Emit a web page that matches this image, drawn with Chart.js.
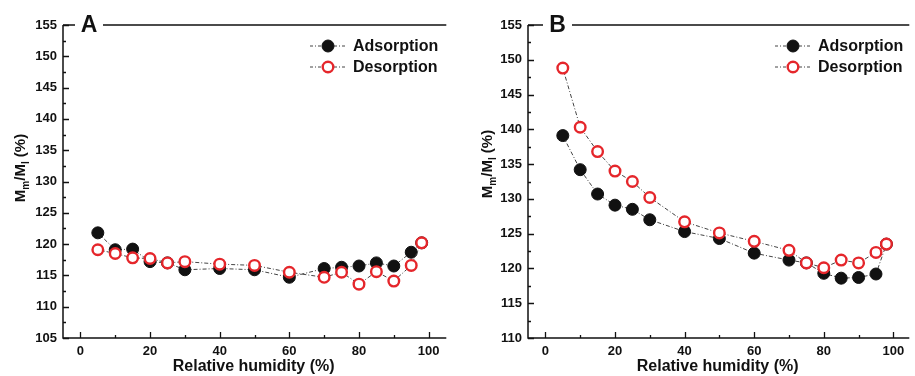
<!DOCTYPE html>
<html>
<head>
<meta charset="utf-8">
<script src="https://cdn.jsdelivr.net/npm/chart.js@4.4.1/dist/chart.umd.min.js"></script>
<style>
  body { margin: 0; background: #fff; }
  #wrap { position: relative; width: 915px; height: 376px; overflow: hidden; }
  .panel { position: absolute; top: 0; height: 376px; }
  #panelA { left: 0; width: 452px; }
  #panelB { left: 455px; width: 460px; }
</style>
</head>
<body>
<div id="wrap">
  <div class="panel" id="panelA"><canvas id="chartA"></canvas></div>
  <div class="panel" id="panelB"><canvas id="chartB"></canvas></div>
</div>
<script>
// relative humidity steps (%)
const humidity = [5, 10, 15, 20, 25, 30, 40, 50, 60, 70, 75, 80, 85, 90, 95, 98];

// panel A
const adsorptionA = [121.8, 119.1, 119.2, 117.2, 117.0, 115.9, 116.1, 115.9, 114.7, 116.1, 116.3, 116.5, 117.0, 116.5, 118.7, 120.2];
const desorptionA = [119.1, 118.5, 117.8, 117.7, 117.0, 117.2, 116.8, 116.6, 115.5, 114.7, 115.5, 113.6, 115.6, 114.1, 116.6, 120.2];

// panel B
const adsorptionB = [139.1, 134.2, 130.7, 129.1, 128.5, 127.0, 125.3, 124.3, 122.2, 121.2, 120.8, 119.3, 118.6, 118.7, 119.2, 123.5];
const desorptionB = [148.8, 140.3, 136.8, 134.0, 132.5, 130.2, 126.7, 125.1, 123.9, 122.6, 120.8, 120.1, 121.2, 120.8, 122.3, 123.5];

const xTicks = [0, 20, 40, 60, 80, 100];
const seriesNames = ['Adsorption', 'Desorption'];

const RED = '#e5262b';
const INK = '#111';
const FONT = '"Liberation Sans", Arial, sans-serif';

function points(vals) {
    return humidity.map((h, i) => ({ x: h, y: vals[i] }));
}

// frame: top line broken by the panel letter, inward ticks, y title, legend
const decorPlugin = {
    id: 'decor',
    beforeDatasetsDraw(chart, args, opts) {
        const ctx = chart.ctx;
        const area = chart.chartArea;
        const xs = chart.scales.x;
        const ys = chart.scales.y;
        ctx.save();
        ctx.strokeStyle = INK;
        ctx.lineWidth = 1.5;

        // axes
        ctx.beginPath();
        ctx.moveTo(area.left, area.top);
        ctx.lineTo(area.left, area.bottom);
        ctx.lineTo(area.right + 2, area.bottom);
        ctx.stroke();

        // top line with gap for letter
        ctx.beginPath();
        ctx.moveTo(area.left, area.top);
        ctx.lineTo(area.left + opts.gapStart, area.top);
        ctx.moveTo(area.left + opts.gapEnd, area.top);
        ctx.lineTo(area.right + 2, area.top);
        ctx.stroke();

        // letter
        ctx.fillStyle = INK;
        ctx.font = 'bold 23px ' + FONT;
        ctx.textAlign = 'center';
        ctx.textBaseline = 'middle';
        ctx.fillText(opts.letter, area.left + (opts.gapStart + opts.gapEnd) / 2, area.top + 1);

        // y ticks (inward), minor every 2.5
        ctx.lineWidth = 1.3;
        ctx.beginPath();
        for (let v = ys.min; v <= ys.max + 0.01; v += 2.5) {
            const py = Math.round(ys.getPixelForValue(v)) + 0.5;
            const len = (Math.round(v) % 5 === 0 && Number.isInteger(v)) ? 6 : 3;
            ctx.moveTo(area.left, py);
            ctx.lineTo(area.left + len, py);
        }
        // x ticks (inward), minor every 10
        for (let v = 0; v <= 100; v += 10) {
            const px = Math.round(xs.getPixelForValue(v)) + 0.5;
            const len = v % 20 === 0 ? 6 : 3;
            ctx.moveTo(px, area.bottom);
            ctx.lineTo(px, area.bottom - len);
        }
        ctx.stroke();

        // y title with subscripts: Mm/Ml (%)
        ctx.save();
        ctx.translate(opts.titleX, opts.titleY);
        ctx.rotate(-Math.PI / 2);
        ctx.textBaseline = 'alphabetic';
        ctx.textAlign = 'left';
        const parts = [
            { t: 'M', size: 15, dy: 0 },
            { t: 'm', size: 10, dy: 4 },
            { t: '/M', size: 15, dy: 0 },
            { t: 'l', size: 10, dy: 4 },
            { t: ' (%)', size: 15, dy: 0 }
        ];
        let total = 0;
        parts.forEach(p => { ctx.font = 'bold ' + p.size + 'px ' + FONT; total += ctx.measureText(p.t).width; });
        let cx = -total / 2;
        parts.forEach(p => {
            ctx.font = 'bold ' + p.size + 'px ' + FONT;
            ctx.fillText(p.t, cx, 5 + p.dy);
            cx += ctx.measureText(p.t).width;
        });
        ctx.restore();

        // legend
        chart.data.datasets.slice().sort((a, b) => a.legendRow - b.legendRow).forEach(ds => {
            const ly = opts.legendY + ds.legendRow * 21;
            const mx = opts.legendX;
            ctx.strokeStyle = '#444';
            ctx.lineWidth = 1;
            ctx.setLineDash([3, 2, 1, 2]);
            ctx.beginPath();
            ctx.moveTo(mx - 18, ly);
            ctx.lineTo(mx + 18, ly);
            ctx.stroke();
            ctx.setLineDash([]);
            ctx.beginPath();
            ctx.arc(mx, ly, ds.pointRadius, 0, Math.PI * 2);
            ctx.fillStyle = ds.pointBackgroundColor;
            ctx.fill();
            ctx.lineWidth = ds.pointBorderWidth;
            ctx.strokeStyle = ds.pointBorderColor;
            ctx.stroke();
            ctx.fillStyle = INK;
            ctx.font = 'bold 16px ' + FONT;
            ctx.textAlign = 'left';
            ctx.textBaseline = 'middle';
            ctx.fillText(ds.label, mx + 25, ly + 1);
        });

        ctx.restore();
    }
};

function makeChart(id, ads, des, yMin, yMax, xMax, yWidth, decor) {
    const ctx = document.getElementById(id).getContext('2d');
    return new Chart(ctx, {
        type: 'scatter',
        data: {
            datasets: [
                {
                    label: seriesNames[0],
                    data: points(ads),
                    showLine: true,
                    borderColor: '#444',
                    borderWidth: 1,
                    borderDash: [4, 2, 1, 2],
                    pointRadius: 6,
                    pointBackgroundColor: INK,
                    pointBorderColor: INK,
                    pointBorderWidth: 1,
                    order: 1,
                    legendRow: 0
                },
                {
                    label: seriesNames[1],
                    data: points(des),
                    showLine: true,
                    borderColor: '#444',
                    borderWidth: 1,
                    borderDash: [4, 2, 1, 2],
                    pointRadius: 5.3,
                    pointBackgroundColor: '#fff',
                    pointBorderColor: RED,
                    pointBorderWidth: 2.4,
                    order: 0,
                    legendRow: 1
                }
            ]
        },
        options: {
            responsive: true,
            maintainAspectRatio: false,
            animation: false,
            layout: { padding: { top: 25, right: 0, left: 0, bottom: 0 } },
            plugins: {
                legend: { display: false },
                tooltip: { enabled: false },
                decor: decor
            },
            scales: {
                x: {
                    type: 'linear',
                    min: -5,
                    max: xMax,
                    afterBuildTicks: axis => { axis.ticks = xTicks.map(v => ({ value: v })); },
                    grid: { display: false, drawTicks: false },
                    border: { display: false },
                    ticks: {
                        color: INK,
                        padding: 6,
                        font: { family: FONT, size: 13, weight: 'bold' }
                    },
                    title: {
                        display: true,
                        text: 'Relative humidity (%)',
                        color: INK,
                        padding: { top: 0, bottom: 0 },
                        font: { family: FONT, size: 16, weight: 'bold' }
                    },
                    afterFit: axis => { axis.height = 38; }
                },
                y: {
                    min: yMin,
                    max: yMax,
                    grid: { display: false, drawTicks: false },
                    border: { display: false },
                    ticks: {
                        stepSize: 5,
                        color: INK,
                        padding: 6,
                        font: { family: FONT, size: 13, weight: 'bold' }
                    },
                    afterFit: axis => { axis.width = yWidth; }
                }
            }
        },
        plugins: [decorPlugin]
    });
}

makeChart('chartA', adsorptionA, desorptionA, 105, 155, 104.5, 63,
    { letter: 'A', gapStart: 12, gapEnd: 40, titleX: 20, titleY: 168, legendX: 328, legendY: 46 });
makeChart('chartB', adsorptionB, desorptionB, 110, 155, 104, 73,
    { letter: 'B', gapStart: 15, gapEnd: 44, titleX: 32, titleY: 164, legendX: 338, legendY: 46 });
</script>
</body>
</html>
